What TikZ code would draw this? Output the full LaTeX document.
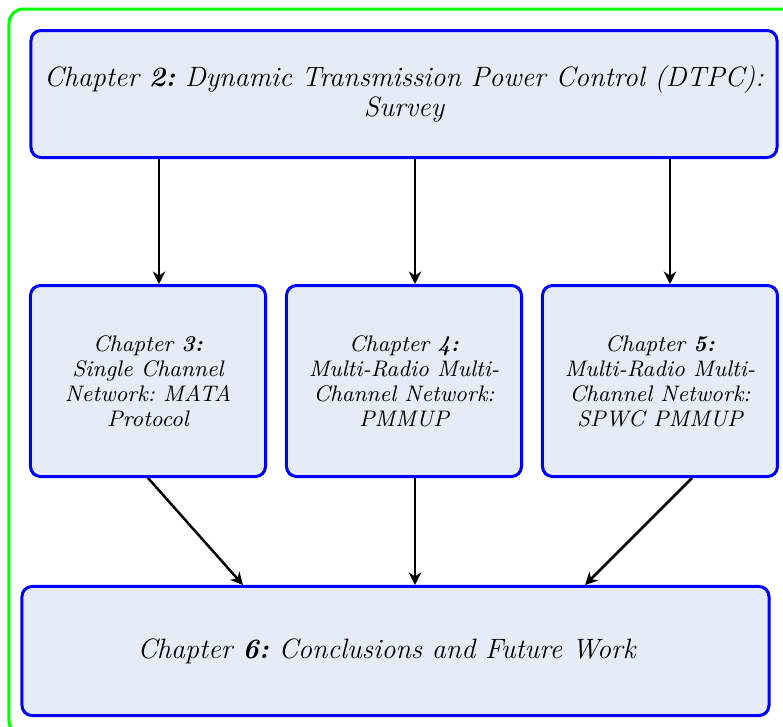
\documentclass[tikz,border=0pt]{standalone}
\usetikzlibrary{arrows.meta}
\definecolor{boxfill}{RGB}{230,236,247}
\definecolor{boxline}{RGB}{0,0,255}
\definecolor{frameline}{RGB}{0,255,0}
\frenchspacing
\begin{document}
\begin{tikzpicture}[x=0.4pt,y=-0.4pt,
  chap/.style={draw=boxline, fill=boxfill, line width=1.2pt, rounded corners=4pt, inner sep=0pt, align=center},
  bigchap/.style={chap, minimum width=298.4pt, minimum height=50.8pt, font=\fontsize{11.2}{12}\selectfont\itshape},
  midchap/.style={chap, minimum width=94pt, minimum height=76.4pt, font=\fontsize{9}{10}\selectfont\itshape},
  link/.style={line width=1pt, -{Stealth[length=5pt,width=5pt]}}]
\useasboundingbox (0,0) rectangle (783,727);
\draw[frameline, line width=1.2pt, rounded corners=5.6pt] (9,9) rectangle (795,735);
\node[bigchap] (c2) at (404,94) {Chapter \textbf{2:} Dynamic Transmission Power Control (DTPC):\\Survey};
\node[midchap] (c3) at (148,381) {Chapter \textbf{3:}\\Single Channel\\Network: MATA\\Protocol};
\node[midchap] (c4) at (404,381) {Chapter \textbf{4:}\\Multi-Radio Multi-\\Channel Network:\\PMMUP};
\node[midchap] (c5) at (660,381) {Chapter \textbf{5:}\\Multi-Radio Multi-\\Channel Network:\\SPWC PMMUP};
\node[bigchap, minimum width=298.8pt, minimum height=51.6pt] (c6) at (395.5,651) {Chapter \textbf{6:} Conclusions and Future Work\hspace*{7.2pt}};
\draw[link] ([xshift=-98pt]c2.south) -- ([xshift=-98pt]c2.south |- c3.north);
\draw[link] ([xshift=4.4pt]c2.south) -- ([xshift=4.4pt]c2.south |- c4.north);
\draw[link] ([xshift=106.4pt]c2.south) -- ([xshift=106.4pt]c2.south |- c5.north);
\draw[link] (c3.south) -- ([xshift=-61pt]c6.north);
\draw[link] ([xshift=4.4pt]c4.south) -- ([xshift=4.4pt]c4.south |- c6.north);
\draw[link] ([xshift=12.8pt]c5.south) -- ([xshift=75.8pt]c6.north);
\end{tikzpicture}
\end{document}
